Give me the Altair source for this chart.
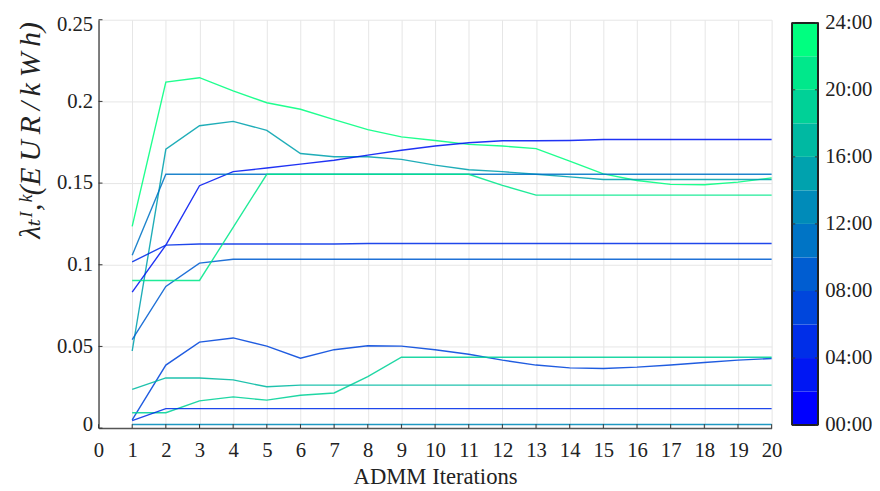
import altair as alt
import pandas as pd

# ---------------- data ----------------
iterations = [1, 2, 3, 4, 5, 6, 7, 8, 9, 10, 11, 12, 13, 14, 15, 16, 17, 18, 19, 20]

series_hours = {"A": 23, "B": 15, "C": 3, "D": 11, "E": 9, "K": 5,
                "L": 21, "F": 7, "G": 19, "H": 17, "I": 4, "J": 13}

A = [0.1235, 0.2118, 0.2145, 0.2064, 0.1992, 0.1952, 0.1888, 0.1827, 0.1783, 0.1761,
     0.1737, 0.1727, 0.1711, 0.1634, 0.1556, 0.1516, 0.1492, 0.1490, 0.1506, 0.1532]
B = [0.0472, 0.1707, 0.1851, 0.1878, 0.1823, 0.1681, 0.1661, 0.1661, 0.1645, 0.1610,
     0.1582, 0.1570, 0.1554, 0.1538, 0.1522, 0.1522, 0.1522, 0.1522, 0.1522, 0.1522]
C = [0.0833, 0.1120, 0.1484, 0.1570, 0.1592, 0.1616, 0.1640, 0.1671, 0.1701, 0.1727,
     0.1747, 0.1759, 0.1759, 0.1761, 0.1767, 0.1767, 0.1767, 0.1767, 0.1767, 0.1767]
D = [0.1058, 0.1554, 0.1554, 0.1554, 0.1554, 0.1554, 0.1554, 0.1554, 0.1554, 0.1554,
     0.1554, 0.1554, 0.1554, 0.1554, 0.1554, 0.1554, 0.1554, 0.1554, 0.1554, 0.1554]
E = [0.0542, 0.0867, 0.1010, 0.1034, 0.1034, 0.1034, 0.1034, 0.1034, 0.1034, 0.1034,
     0.1034, 0.1034, 0.1034, 0.1034, 0.1034, 0.1034, 0.1034, 0.1034, 0.1034, 0.1034]
K = [0.1018, 0.1120, 0.1127, 0.1127, 0.1127, 0.1127, 0.1127, 0.1130, 0.1130, 0.1130,
     0.1130, 0.1130, 0.1130, 0.1130, 0.1130, 0.1130, 0.1130, 0.1130, 0.1130, 0.1130]
L = [0.0904, 0.0904, 0.0904, 0.1229, 0.1554, 0.1554, 0.1554, 0.1554, 0.1554, 0.1554,
     0.1554, 0.1486, 0.1426, 0.1426, 0.1426, 0.1426, 0.1426, 0.1426, 0.1426, 0.1426]
F = [0.0050, 0.0386, 0.0526, 0.0552, 0.0502, 0.0428, 0.0480, 0.0504, 0.0502, 0.0480,
     0.0452, 0.0416, 0.0386, 0.0369, 0.0365, 0.0373, 0.0386, 0.0402, 0.0416, 0.0426]
G = [0.0094, 0.0094, 0.0167, 0.0191, 0.0171, 0.0201, 0.0215, 0.0315, 0.0434, 0.0434,
     0.0434, 0.0434, 0.0434, 0.0434, 0.0434, 0.0434, 0.0434, 0.0434, 0.0434, 0.0434]
H = [0.0237, 0.0307, 0.0307, 0.0295, 0.0253, 0.0263, 0.0263, 0.0263, 0.0263, 0.0263,
     0.0263, 0.0263, 0.0263, 0.0263, 0.0263, 0.0263, 0.0263, 0.0263, 0.0263, 0.0263]
I = [0.0046, 0.0119, 0.0119, 0.0119, 0.0119, 0.0119, 0.0119, 0.0119, 0.0119, 0.0119,
     0.0119, 0.0119, 0.0119, 0.0119, 0.0119, 0.0119, 0.0119, 0.0119, 0.0119, 0.0119]
J = [0.0022, 0.0022, 0.0022, 0.0022, 0.0022, 0.0022, 0.0022, 0.0022, 0.0022, 0.0022,
     0.0022, 0.0022, 0.0022, 0.0022, 0.0022, 0.0022, 0.0022, 0.0022, 0.0022, 0.0022]

series_values = {"A": A, "B": B, "C": C, "D": D, "E": E, "K": K,
                 "L": L, "F": F, "G": G, "H": H, "I": I, "J": J}

# MATLAB "winter" colormap with 12 levels
winter12 = ["#0000ff", "#0017f3", "#002ee8", "#0046dc", "#005dd1", "#0074c5",
            "#008bb9", "#00a2ae", "#00b9a2", "#00d197", "#00e88b", "#00ff80"]
bin_start = [0, 2, 4, 6, 8, 10, 12, 14, 16, 18, 20, 22]
bin_end = [2, 4, 6, 8, 10, 12, 14, 16, 18, 20, 22, 24]
bin_mid = [1, 3, 5, 7, 9, 11, 13, 15, 17, 19, 21, 23]
cbar_ticks = [0, 4, 8, 12, 16, 20, 24]
x_ticks = [0, 1, 2, 3, 4, 5, 6, 7, 8, 9, 10, 11, 12, 13, 14, 15, 16, 17, 18, 19, 20]
y_ticks = [0, 0.05, 0.1, 0.15, 0.2, 0.25]

y_title = "λₜᴵ,ᵏ(E\u2009U\u2009R\u2009/\u2009k\u2009W\u2009h)"

# ---------------- tables ----------------
rows = []
for name, vals in series_values.items():
    for it, v in zip(iterations, vals):
        rows.append({"series": name, "hour": series_hours[name], "iter": it, "price": v})
df = pd.DataFrame(rows)

cb = pd.DataFrame({"start": bin_start, "end": bin_end, "hour": bin_mid})
cbt = pd.DataFrame({"start": cbar_ticks})
xt = pd.DataFrame({"iter": x_ticks})
yt = pd.DataFrame({"price": y_ticks})

FONT = "Liberation Serif, Times New Roman, Times, DejaVu Serif, serif"
color_scale = alt.Scale(type="quantize", domain=[0, 24], range=winter12)
PW, PH = 684, 415

x_enc = alt.X("iter:Q", scale=alt.Scale(domain=[0, 20], nice=False),
              axis=alt.Axis(values=x_ticks, title="ADMM Iterations", labelFlush=False,
                            ticks=False, labelPadding=12, titlePadding=5,
                            domainColor="#555555", domainWidth=1.5,
                            gridColor="#e6e6e6", labelFontSize=21, titleFontSize=23,
                            labelFont=FONT, titleFont=FONT, labelColor="#222",
                            titleColor="#222", titleFontWeight="normal"))
y_enc = alt.Y("price:Q", scale=alt.Scale(domain=[0, 0.25], nice=False),
              axis=alt.Axis(values=y_ticks, format="~g", title=y_title,
                            ticks=False, labelPadding=6, labelFlush=True,
                            labelFlushOffset=6.5,
                            domainColor="#555555", domainWidth=1.5,
                            gridColor="#e6e6e6", labelFontSize=21, titleFontSize=30,
                            labelFont=FONT, titleFont=FONT, labelColor="#222",
                            titleColor="#222", titleFontWeight="normal",
                            titleFontStyle="italic", titleAngle=270,
                            titleAlign="center", titleBaseline="middle",
                            titleX=-69, titleY=112))

lines = alt.Chart(df).mark_line(strokeWidth=1.4, opacity=0.88).encode(
    x=x_enc, y=y_enc,
    color=alt.Color("hour:Q", scale=color_scale, legend=None),
    detail="series:N",
)

x_tick_marks = alt.Chart(xt).mark_rule(color="#333333", strokeWidth=1).encode(
    x=x_enc, y=alt.value(PH), y2=alt.value(PH - 4),
)
y_tick_marks = alt.Chart(yt).mark_rule(color="#333333", strokeWidth=1).encode(
    y=y_enc, x=alt.value(0), x2=alt.value(4),
)

main = alt.layer(lines, x_tick_marks, y_tick_marks).properties(width=PW, height=PH)

cb_enc = alt.Y("start:Q", scale=alt.Scale(domain=[-0.18, 24.18], nice=False, zero=False),
               axis=alt.Axis(orient="right", values=cbar_ticks, title=None,
                             labelExpr="(datum.value < 10 ? '0' : '') + datum.value + ':00'",
                             ticks=False, domain=False, grid=False, labelPadding=7,
                             labelFlush=False,
                             labelFontSize=21, labelFont=FONT, labelColor="#222"))

cbar = alt.Chart(cb).mark_rect().encode(
    x=alt.value(0), x2=alt.value(26),
    y=cb_enc, y2="end:Q",
    color=alt.Color("hour:Q", scale=color_scale, legend=None),
)

cbar_border = alt.Chart(cb).mark_rect(fill=None, stroke="#222222", strokeWidth=1).encode(
    x=alt.value(0), x2=alt.value(26),
    y=alt.datum(0), y2=alt.datum(24),
)

cbar_ticks_left = alt.Chart(cbt).mark_rule(color="#333333", strokeWidth=1).encode(
    y=cb_enc, x=alt.value(0), x2=alt.value(3),
)
cbar_ticks_right = alt.Chart(cbt).mark_rule(color="#333333", strokeWidth=1).encode(
    y=cb_enc, x=alt.value(23), x2=alt.value(26),
)

colorbar = alt.layer(cbar, cbar_border, cbar_ticks_left, cbar_ticks_right).properties(
    width=26, height=PH)

chart = alt.hconcat(main, colorbar, spacing=9).properties(
    padding={"left": 7, "top": 0, "right": 0, "bottom": 0}
).configure_view(stroke=None)

chart.save("out.html", embed_options={"renderer": "svg", "actions": False})
